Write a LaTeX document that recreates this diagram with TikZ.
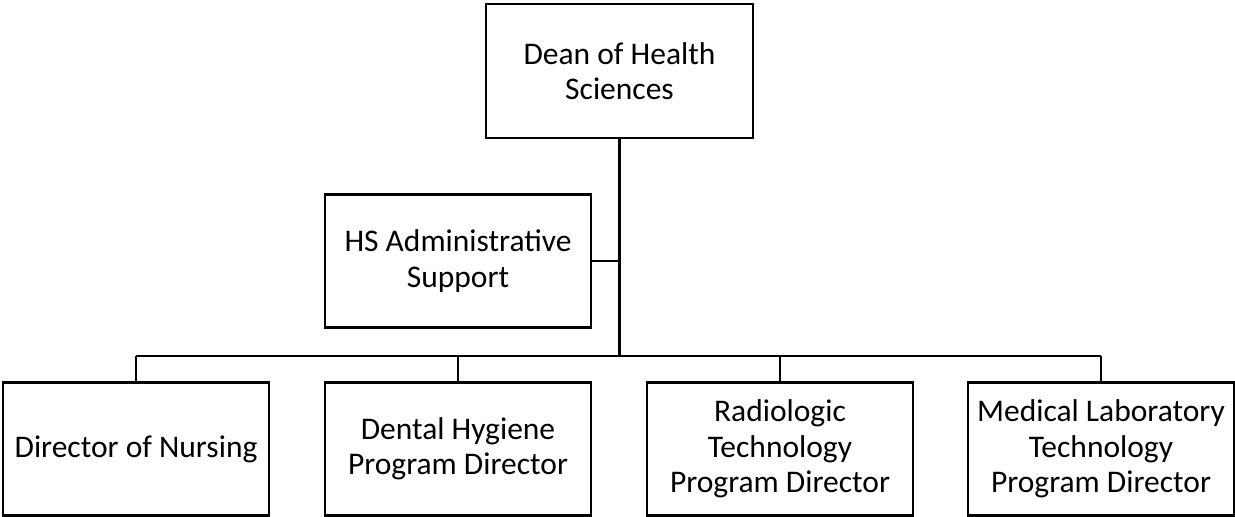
\documentclass[tikz,border=0pt]{standalone}
\usepackage{fontspec}
\setmainfont{Carlito}
\usetikzlibrary{positioning}

\begin{document}
\begin{tikzpicture}[
  x=1pt, y=-1pt,
  block/.style={draw, line width=2.8pt, minimum width=266pt, minimum height=133pt, align=center, inner sep=2pt, font=\fontsize{31.5}{35.5}\selectfont},
  link/.style={line width=2.8pt}
]
  \useasboundingbox (0,0) rectangle (1235,517);

  \node[block, minimum width=267pt, minimum height=134pt] (dean) at (619.5,71) {Dean of Health\\Sciences};
  \node[block] (admin) at (458,261) {HS Administrative\\Support};
  \node[block] (nursing) at (136,449) {Director of Nursing};
  \node[block] (dental) at (458,449) {Dental Hygiene\\Program Director};
  \node[block] (radio) at (780,449) {Radiologic\\Technology\\Program Director};
  \node[block] (medlab) at (1101,449) {Medical Laboratory\\Technology\\Program Director};
  \coordinate (bar) at (0,356);

  \draw[link] (dean.south) -- (dean.south |- bar);
  \draw[link] (admin.east) -- (admin.east -| dean.south);
  \draw[link] (nursing.north |- bar) -- (medlab.north |- bar);
  \foreach \n in {nursing,dental,radio,medlab}
    \draw[link] (\n.north) -- (\n.north |- bar);
\end{tikzpicture}
\end{document}
